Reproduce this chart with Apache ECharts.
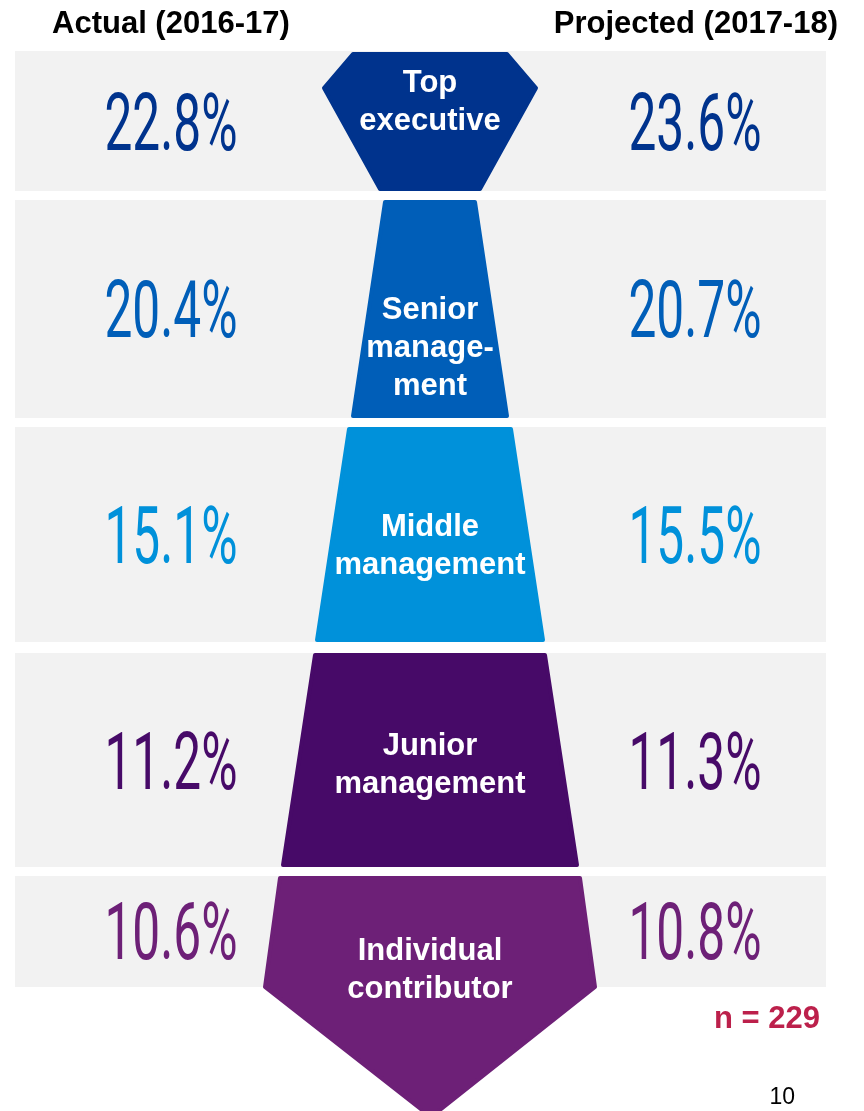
<!DOCTYPE html>
<html>
<head>
<meta charset="utf-8">
<script src="https://cdn.jsdelivr.net/npm/echarts@6/dist/echarts.min.js"></script>
<style>
  html, body { margin: 0; padding: 0; background: #fff; }
  #main { width: 864px; height: 1111px; }
</style>
</head>
<body>
<div id="main"></div>
<script>
// data
const levels = ['Top\nexecutive', 'Senior\nmanage-\nment', 'Middle\nmanagement', 'Junior\nmanagement', 'Individual\ncontributor'];
const actual = [22.8, 20.4, 15.1, 11.2, 10.6];
const projected = [23.6, 20.7, 15.5, 11.3, 10.8];
const headers = ['Actual (2016-17)', 'Projected (2017-18)'];
const sampleSize = 229;
const pageNo = '10';

// layout, in pixel units of the hidden axes
const colors = ['#00338D', '#005EB8', '#0091DA', '#470A68', '#6D2077'];
const bands = [[51, 191], [200, 418], [427, 642], [653, 867], [876, 987]];
const tieShapes = [
    [[353, 54], [507, 54], [536, 88], [480, 189], [380, 189], [324, 88]],
    [[385, 202], [475, 202], [507, 416], [353, 416]],
    [[349, 429], [511, 429], [543, 640], [317, 640]],
    [[315, 655], [545, 655], [577, 865], [283, 865]],
    [[280, 878], [580, 878], [595, 987], [431, 1117], [265, 987]]
];
const labelY = [102, 348, 546, 765, 970];
const pctY = [130, 317, 543, 769, 939];
const pctX = [171, 695];

function renderItem(params, api) {
    let i = params.dataIndex;
    let p = (x, y) => api.coord([x, y]);
    let b0 = p(15, bands[i][0]);
    let b1 = p(826, bands[i][1]);
    let c = colors[i];
    let left = p(pctX[0], pctY[i]);
    let right = p(pctX[1], pctY[i]);
    let lab = p(430, labelY[i]);
    let pctText = (v, pt) => ({
        type: 'text',
        x: pt[0], y: pt[1],
        scaleX: 0.62,
        style: {
            text: v.toFixed(1) + '%',
            fill: c,
            font: '80px Roboto',
            align: 'center',
            verticalAlign: 'middle'
        }
    });
    return {
        type: 'group',
        children: [
            { type: 'rect', shape: { x: b0[0], y: b0[1], width: b1[0] - b0[0], height: b1[1] - b0[1] }, style: { fill: '#F2F2F2' } },
            { type: 'polygon', shape: { points: tieShapes[i].map(q => p(q[0], q[1])) }, style: { fill: c, stroke: c, lineWidth: 4, lineJoin: 'round' } },
            { type: 'text', x: lab[0], y: lab[1], style: { text: levels[i], fill: '#fff', font: 'bold 31px "Liberation Sans"', lineHeight: 38, align: 'center', verticalAlign: 'middle' } },
            pctText(api.value(1), left),
            pctText(api.value(2), right)
        ]
    };
}

let chart = echarts.init(document.getElementById('main'));
let option = {
    animation: false,
    backgroundColor: '#fff',
    grid: { left: 0, right: 0, top: 0, bottom: 0 },
    xAxis: { type: 'value', min: 0, max: 864, show: false },
    yAxis: { type: 'value', min: 0, max: 1111, inverse: true, show: false },
    series: [{
        type: 'custom',
        clip: false,
        renderItem: renderItem,
        data: levels.map((name, i) => [i, actual[i], projected[i]])
    }],
    graphic: [
        { type: 'text', left: 52, top: 9, style: { text: headers[0], fill: '#000', font: 'bold 31px "Liberation Sans"' } },
        { type: 'text', right: 26, top: 9, style: { text: headers[1], fill: '#000', font: 'bold 31px "Liberation Sans"' } },
        { type: 'text', right: 44, top: 1004, style: { text: 'n = ' + sampleSize, fill: '#BC204B', font: 'bold 31px "Liberation Sans"' } },
        { type: 'text', right: 69, top: 1086, style: { text: pageNo, fill: '#000', font: '23px "Liberation Sans"' } }
    ]
};
chart.setOption(option);
</script>
</body>
</html>
